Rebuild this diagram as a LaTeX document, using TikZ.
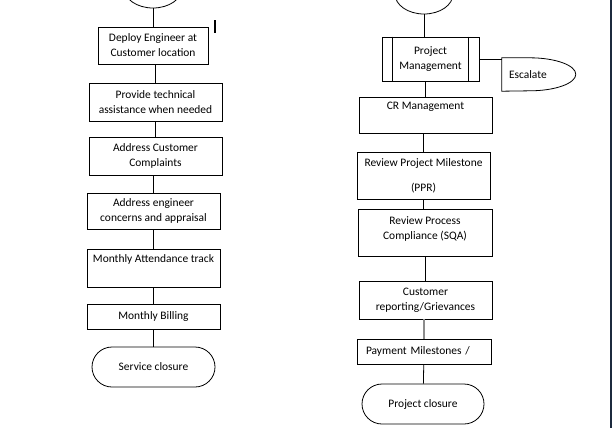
\documentclass[tikz,border=0pt]{standalone}
\usepackage{fontspec}
\setmainfont{Carlito}
\usepackage{xcolor}
\usepackage{tikz}
\usetikzlibrary{shapes,positioning,calc}
\definecolor{edgeblue}{RGB}{28,42,62}

\begin{document}
\begin{tikzpicture}[
    x=1bp, y=1bp,
    every node/.style={font=\fontsize{11.5}{15}\selectfont},
    box/.style={draw, line width=0.8bp, align=center, inner sep=2bp},
    process/.style={box},
    startnode/.style={ellipse, draw, line width=0.8bp, minimum width=58bp, minimum height=40bp, inner sep=0pt},
    terminal/.style={box, rounded corners=20bp, minimum height=40bp},
    delay/.style={minimum width=74bp, minimum height=33bp, inner xsep=7bp, text width=60bp, align=left},
    link/.style={line width=0.8bp}
]
\useasboundingbox (0,0) rectangle (613,-428);

% Service column
\node[startnode] (st1) at (153,12) {};
\node[box, minimum width=110bp, minimum height=37bp] (b1) at (153,-45.5) {Deploy Engineer at\\Customer location};
\node[box, minimum width=133bp, minimum height=38bp] (b2) at (155.5,-102) {Provide technical\\assistance when needed};
\node[box, minimum width=133bp, minimum height=38bp] (b3) at (155.5,-156) {Address Customer\\Complaints};
\node[box, minimum width=133bp, minimum height=36bp] (b4) at (153.5,-211) {Address engineer\\concerns and appraisal};
\node[box, minimum width=133bp, minimum height=38bp] (b5) at (153.5,-268) {Monthly Attendance track\\\strut};
\node[box, minimum width=133bp, minimum height=25bp] (b6) at (153.5,-316.5) {Monthly Billing};
\node[terminal, minimum width=123bp] (end1) at (153.5,-367) {Service closure};

% Project column
\node[startnode] (st2) at (424,6) {};
\node[process, minimum width=97bp, minimum height=44bp] (pm) at (430.5,-59) {Project\\Management};
\draw[link] ([xshift=11bp]pm.north west) -- ([xshift=11bp]pm.south west);
\draw[link] ([xshift=-11bp]pm.north east) -- ([xshift=-11bp]pm.south east);
\node[delay] (esc) at (539,-74.5) {Escalate};
\draw[link] (esc.north west) -- ++(28,0) arc[start angle=90, end angle=-90, x radius=46, y radius=16.5] -- (esc.south west) -- cycle;
\node[box, minimum width=133bp, minimum height=36bp] (cr) at (425.5,-115) {CR Management\\\strut};
\node[box, minimum width=133bp, minimum height=47bp] (ppr) at (423.5,-175.5) {Review Project Milestone\\[10bp](PPR)};
\node[box, minimum width=134bp, minimum height=47bp] (sqa) at (425,-232.5) {Review Process\\Compliance (SQA)\\[-10bp]\strut};
\node[box, minimum width=133bp, minimum height=38bp] (cust) at (425.5,-300) {Customer\\reporting/Grievances};
\node[box, minimum width=134bp, minimum height=25bp, inner xsep=9bp, text width=116bp, align=left] (pay) at (424,-351.5) {Payment Milestones /};
\node[terminal, minimum width=122bp] (end2) at (423,-404) {Project closure};

% Edges
\draw[link] (st1) -- (b1);
\draw[link] (b1.south -| b2) -- (b2.north);
\draw[link] (b2) -- (b3);
\draw[link] (b4.north |- b3.south) -- (b4.north);
\draw[link] (b4) -- (b5);
\draw[link] (b5) -- (b6);
\draw[link] (b6) -- (end1);

\draw[link] (st2) -- (st2 |- pm.north);
\draw[link] (cr.north |- pm.south) -- (cr.north);
\draw[link] (pm.east) -- (pm.east -| esc.west);
\draw[link] (cr.south -| ppr) -- (ppr.north);
\draw[link] (ppr.south) -- (ppr.south |- sqa.north);
\draw[link] (sqa.south) -- (sqa.south |- cust.north);
\draw[line width=1.3bp, gray!90] (cust.south -| pay) -- (pay.north);
\draw[link] (pay) -- (end2);

% Marks
\draw[line width=2bp] (215,-20) -- (215,-33);
\draw[line width=2bp, edgeblue] (611,0) -- (611,-428);
\end{tikzpicture}
\end{document}
